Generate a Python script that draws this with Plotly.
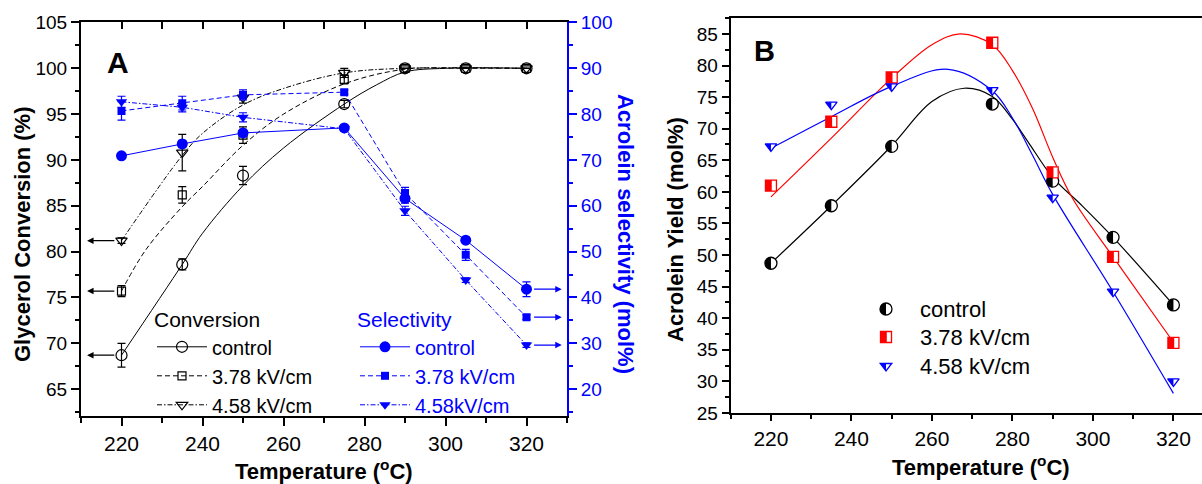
import plotly.graph_objects as go

FONT = "Liberation Sans, Arial, Helvetica, sans-serif"
BLUE = "#0000ff"
RED = "#ff0000"
W, H = 1202, 484

# ---------------- data: panel A ----------------
temps = [220, 235, 250, 275, 290, 305, 320]

conv_control = [68.7, 78.6, 88.3, 96.1, 100.0, 100.0, 100.0]
conv_378 = [75.7, 86.2, 92.7, 98.8, 100.0, 100.0, 100.0]
conv_458 = [81.2, 90.8, 96.8, 99.5, 100.0, 100.0, 100.0]
conv_control_err = [1.3, 0.6, 1.0, 0.4, 0.0, 0.0, 0.0]
conv_378_err = [0.6, 0.9, 0.9, 0.5, 0.0, 0.0, 0.0]
conv_458_err = [0.3, 2.0, 0.6, 0.5, 0.0, 0.0, 0.0]

sel_control = [70.9, 73.5, 75.9, 77.0, 61.6, 52.5, 41.8]
sel_378 = [80.7, 82.4, 84.2, 84.8, 62.8, 49.3, 35.7]
sel_458 = [82.7, 81.5, 79.3, 76.8, 58.9, 43.8, 29.6]
sel_control_err = [0.5, 0.8, 0.8, 0.5, 1.0, 0.6, 1.6]
sel_378_err = [2.0, 1.5, 1.1, 0.5, 1.2, 1.2, 0.5]
sel_458_err = [1.2, 1.0, 1.0, 0.5, 1.0, 0.5, 0.5]

# fitted conversion curves
fitA_control_t = [220, 235, 240, 250, 260, 275, 283, 290, 300, 320]
fitA_control_v = [68.7, 78.6, 82.0, 87.2, 91.3, 96.1, 98.2, 99.6, 100.0, 100.0]
fitA_378_t = [220, 226, 235, 240, 250, 260, 275, 290, 305, 320]
fitA_378_v = [75.7, 80.2, 84.9, 87.1, 91.6, 95.0, 98.3, 99.9, 100.0, 100.0]
fitA_458_t = [220, 235, 240, 250, 260, 275, 290, 320]
fitA_458_v = [81.2, 90.5, 92.9, 96.0, 97.8, 99.5, 100.0, 100.0]

# ---------------- data: panel B ----------------
yield_control = [48.7, 57.8, 67.2, 73.9, 61.7, 52.8, 42.1]
yield_378 = [61.0, 71.1, 78.1, 83.6, 63.1, 49.7, 36.1]
yield_458 = [67.2, 73.8, 76.7, 76.1, 59.1, 44.2, 30.0]

fitB_control_t = [220, 235, 250, 260, 268, 275, 280, 284, 290, 297, 305, 320]
fitB_control_v = [48.7, 57.8, 67.3, 74.3, 76.4, 75.1, 71.5, 67.8, 62.3, 58.0, 52.8, 42.1]
fitB_378_t = [220, 235, 250, 260, 267, 275, 280, 285, 290, 295, 305, 320]
fitB_378_v = [59.2, 68.5, 78.0, 83.3, 85.0, 83.3, 79.2, 73.2, 65.5, 58.9, 49.7, 36.2]
fitB_458_t = [220, 235, 250, 264, 275, 280, 285, 290, 305, 320]
fitB_458_v = [66.9, 71.9, 76.7, 79.4, 76.0, 71.7, 65.8, 59.6, 44.2, 28.1]

legendB_labels = ["control", "3.78 kV/cm", "4.58 kV/cm"]

fig = go.Figure()

# ---------- Panel A: selectivity (right axis) ----------
sel_series = [
    ("control", sel_control, sel_control_err, "circle", 11, "solid"),
    ("3.78 kV/cm", sel_378, sel_378_err, "square", 8, "5px,3px"),
    ("4.58kV/cm", sel_458, sel_458_err, "triangle-down", 10, "5px,2px,1.5px,2px"),
]
for name, vals, err, sym, size, dash in sel_series:
    fig.add_trace(go.Scatter(
        x=temps, y=vals, mode="lines+markers", name=name,
        xaxis="x", yaxis="y2", legend="legend2",
        line=dict(color=BLUE, width=1, dash=dash),
        marker=dict(symbol=sym, size=size, color=BLUE),
        error_y=dict(type="data", array=err, color=BLUE, thickness=1.2, width=4),
    ))

# ---------- Panel A: conversion (left axis) ----------
conv_series = [
    ("control", conv_control, conv_control_err, fitA_control_t, fitA_control_v, "circle-open", 11, "solid"),
    ("3.78 kV/cm", conv_378, conv_378_err, fitA_378_t, fitA_378_v, "square-open", 8, "5px,3px"),
    ("4.58 kV/cm", conv_458, conv_458_err, fitA_458_t, fitA_458_v, "triangle-down-open", 10, "5px,2px,1.5px,2px"),
]
for name, vals, err, ft, fv, sym, size, dash in conv_series:
    fig.add_trace(go.Scatter(
        x=ft, y=fv, mode="lines", showlegend=False, xaxis="x", yaxis="y",
        line=dict(color="black", width=1, dash=dash, shape="spline"),
    ))
    fig.add_trace(go.Scatter(
        x=temps, y=vals, mode="markers", showlegend=False, xaxis="x", yaxis="y",
        marker=dict(symbol=sym, size=size, color="black", line=dict(width=1.2, color="black")),
        error_y=dict(type="data", array=err, color="black", thickness=1.2, width=4),
    ))
    fig.add_trace(go.Scatter(
        x=[None], y=[None], mode="lines+markers", name=name, legend="legend",
        xaxis="x", yaxis="y",
        line=dict(color="black", width=1, dash=dash),
        marker=dict(symbol=sym, size=size, color="black", line=dict(width=1.2, color="black")),
    ))

# empty trace to carry the top tick axis of panel A
fig.add_trace(go.Scatter(x=[None], y=[None], xaxis="x3", yaxis="y", showlegend=False))

# ---------- Panel B ----------
b_series = [
    (yield_control, fitB_control_t, fitB_control_v, "black", "circle", 12),
    (yield_378, fitB_378_t, fitB_378_v, RED, "square", 11),
    (yield_458, fitB_458_t, fitB_458_v, BLUE, "triangle-down", 10),
]
for vals, ft, fv, col, sym, size in b_series:
    fig.add_trace(go.Scatter(
        x=ft, y=fv, mode="lines", showlegend=False, xaxis="x2", yaxis="y3",
        line=dict(color=col, width=1.2, shape="spline"),
    ))
for vals, ft, fv, col, sym, size in b_series:
    fig.add_trace(go.Scatter(
        x=temps, y=vals, mode="markers", showlegend=False, xaxis="x2", yaxis="y3",
        marker=dict(symbol=sym, size=size, color="white", line=dict(width=1.3, color=col)),
    ))

# half-fill glyph paths (pixel units, y up)
K = 0.5523
def half_circle(r):
    c = K * r
    return f"M0,{r} C{-c},{r} {-r},{c} {-r},0 C{-r},{-c} {-c},{-r} 0,{-r} Z"

def half_square(h, split):
    return f"M{-h},{-h} L{split},{-h} L{split},{h} L{-h},{h} Z"

def half_tri(size):
    r = size / 2.0
    rt = r * 2 / 3 ** 0.5
    return f"M{-rt},{r/2} L0,{r/2} L0,{-r} Z"

def tri_outline(size):
    r = size / 2.0
    rt = r * 2 / 3 ** 0.5
    return f"M{-rt},{r/2} L{rt},{r/2} L0,{-r} Z"

shapes = []
fill_paths = [half_circle(6), half_square(5.5, 0.8), half_tri(10)]
for (vals, ft, fv, col, sym, size), p in zip(b_series, fill_paths):
    for t, v in zip(temps, vals):
        shapes.append(dict(type="path", xref="x2", yref="y3", xsizemode="pixel", ysizemode="pixel",
                           xanchor=t, yanchor=v, path=p, fillcolor=col, line=dict(width=0), layer="above"))

# manual legend for panel B
leg_x = 886
leg_rows = [309, 337, 366]
outline = [
    dict(type="circle", x0=-6, x1=6, y0=-6, y1=6),
    dict(type="rect", x0=-5.5, x1=5.5, y0=-5.5, y1=5.5),
    dict(type="path", path=tri_outline(10)),
]
cols = ["black", RED, BLUE]
annotations = []
for i, (label, row) in enumerate(zip(legendB_labels, leg_rows)):
    o = dict(outline[i])
    o.update(xref="paper", yref="paper", xsizemode="pixel", ysizemode="pixel",
             xanchor=leg_x / W, yanchor=1 - row / H, fillcolor="white",
             line=dict(width=1.3, color=cols[i]), layer="above")
    shapes.append(o)
    shapes.append(dict(type="path", xref="paper", yref="paper", xsizemode="pixel", ysizemode="pixel",
                       xanchor=leg_x / W, yanchor=1 - row / H, path=fill_paths[i],
                       fillcolor=cols[i], line=dict(width=0), layer="above"))
    annotations.append(dict(text=label, x=918 / W, y=1 - row / H, xref="paper", yref="paper",
                            xanchor="left", yanchor="middle", showarrow=False,
                            font=dict(size=22, color="black")))

# arrows in panel A
for v in [conv_control[0], conv_378[0], conv_458[0]]:
    annotations.append(dict(x=211.5, y=v, xref="x", yref="y", ax=218.6, ay=v, axref="x", ayref="y",
                            text="", showarrow=True, arrowhead=2, arrowsize=1, arrowwidth=1.3,
                            arrowcolor="black"))
for v in [sel_control[-1], sel_378[-1], sel_458[-1]]:
    annotations.append(dict(x=328.7, y=v, xref="x", yref="y2", ax=321.5, ay=v, axref="x", ayref="y2",
                            text="", showarrow=True, arrowhead=2, arrowsize=1, arrowwidth=1.3,
                            arrowcolor=BLUE))

def pa(text, x, y, size=22, color="black", angle=0):
    annotations.append(dict(text=text, x=x / W, y=1 - y / H, xref="paper", yref="paper",
                            xanchor="center", yanchor="middle", showarrow=False, textangle=angle,
                            font=dict(size=size, color=color)))

pa("<b>Temperature (<sup>o</sup>C)</b>", 324, 470)
pa("<b>Temperature (<sup>o</sup>C)</b>", 981, 466)
pa("<b>Glycerol Conversion (%)</b>", 22, 234, angle=-90)
pa("<b>Acrolein selectivity (mol%)</b>", 626, 234, color=BLUE, angle=90)
pa("<b>Acrolein Yield (mol%)</b>", 676, 229, angle=-90)
pa("<b>A</b>", 118, 62, size=30)
pa("<b>B</b>", 764, 51, size=29)

axA_x = [81 / W, 567 / W]
axA_y = [1 - 415.7 / H, 1 - 22.3 / H]
axB_x = [730.7 / W, 1.0]
axB_y = [1 - 413 / H, 1 - 17.5 / H]

common = dict(showgrid=False, zeroline=False, automargin=False, ticks="outside", tickwidth=1.5,
              showline=True, linewidth=2, linecolor="black", tickcolor="black")

fig.update_layout(
    width=W, height=H, margin=dict(l=0, r=0, t=0, b=0),
    paper_bgcolor="white", plot_bgcolor="white", template="none",
    font=dict(family=FONT, color="black"),
    hovermode=False,
    showlegend=True,
    xaxis=dict(domain=axA_x, range=[210, 330], anchor="y", dtick=20, tick0=0, ticklen=8,
               minor=dict(dtick=10, ticks="outside", ticklen=5, tickwidth=1.5, tickcolor="black"),
               mirror=True, tickfont=dict(size=21), **common),
    xaxis3=dict(domain=axA_x, range=[210, 330], anchor="y", overlaying="x", side="top",
                dtick=10, tick0=0, ticks="inside", ticklen=7, tickwidth=1.5, tickcolor="black",
                showticklabels=False, showline=False, showgrid=False, zeroline=False, automargin=False),
    yaxis=dict(domain=axA_y, range=[62.1, 105.02], anchor="x", dtick=5, tick0=0, ticklen=8,
               minor=dict(dtick=2.5, ticks="outside", ticklen=4, tickwidth=1.5, tickcolor="black"),
               tickfont=dict(size=19), **common),
    yaxis2=dict(domain=axA_y, range=[14.2, 100.04], anchor="x", overlaying="y", side="right",
                dtick=10, tick0=0, ticks="outside", ticklen=8, tickwidth=1.5,
                minor=dict(dtick=5, ticks="outside", ticklen=4, tickwidth=1.5, tickcolor=BLUE),
                showline=True, linewidth=2, linecolor=BLUE, tickcolor=BLUE,
                showgrid=False, zeroline=False, automargin=False,
                tickfont=dict(size=19, color=BLUE)),
    xaxis2=dict(domain=axB_x, range=[210, 327.1], anchor="y3", dtick=20, tick0=0, ticklen=6,
                minor=dict(dtick=10, ticks="outside", ticklen=4, tickwidth=1.5, tickcolor="black"),
                mirror=True, tickfont=dict(size=21), **common),
    yaxis3=dict(domain=axB_y, range=[25, 87.6], anchor="x2", dtick=5, tick0=0, ticklen=7,
                minor=dict(dtick=2.5, ticks="outside", ticklen=4, tickwidth=1.5, tickcolor="black"),
                tickfont=dict(size=19), **common),
    legend=dict(x=152 / W, y=1 - 300 / H, xanchor="left", yanchor="top",
                bgcolor="rgba(0,0,0,0)", font=dict(size=20, color="black"),
                title=dict(text="Conversion", font=dict(size=21, color="black")),
                tracegroupgap=0, itemwidth=50),
    legend2=dict(x=355 / W, y=1 - 300 / H, xanchor="left", yanchor="top",
                 bgcolor="rgba(0,0,0,0)", font=dict(size=20, color=BLUE),
                 title=dict(text="Selectivity", font=dict(size=21, color=BLUE)),
                 tracegroupgap=0, itemwidth=50),
    shapes=shapes,
    annotations=annotations,
)

fig.write_html("out.html")
